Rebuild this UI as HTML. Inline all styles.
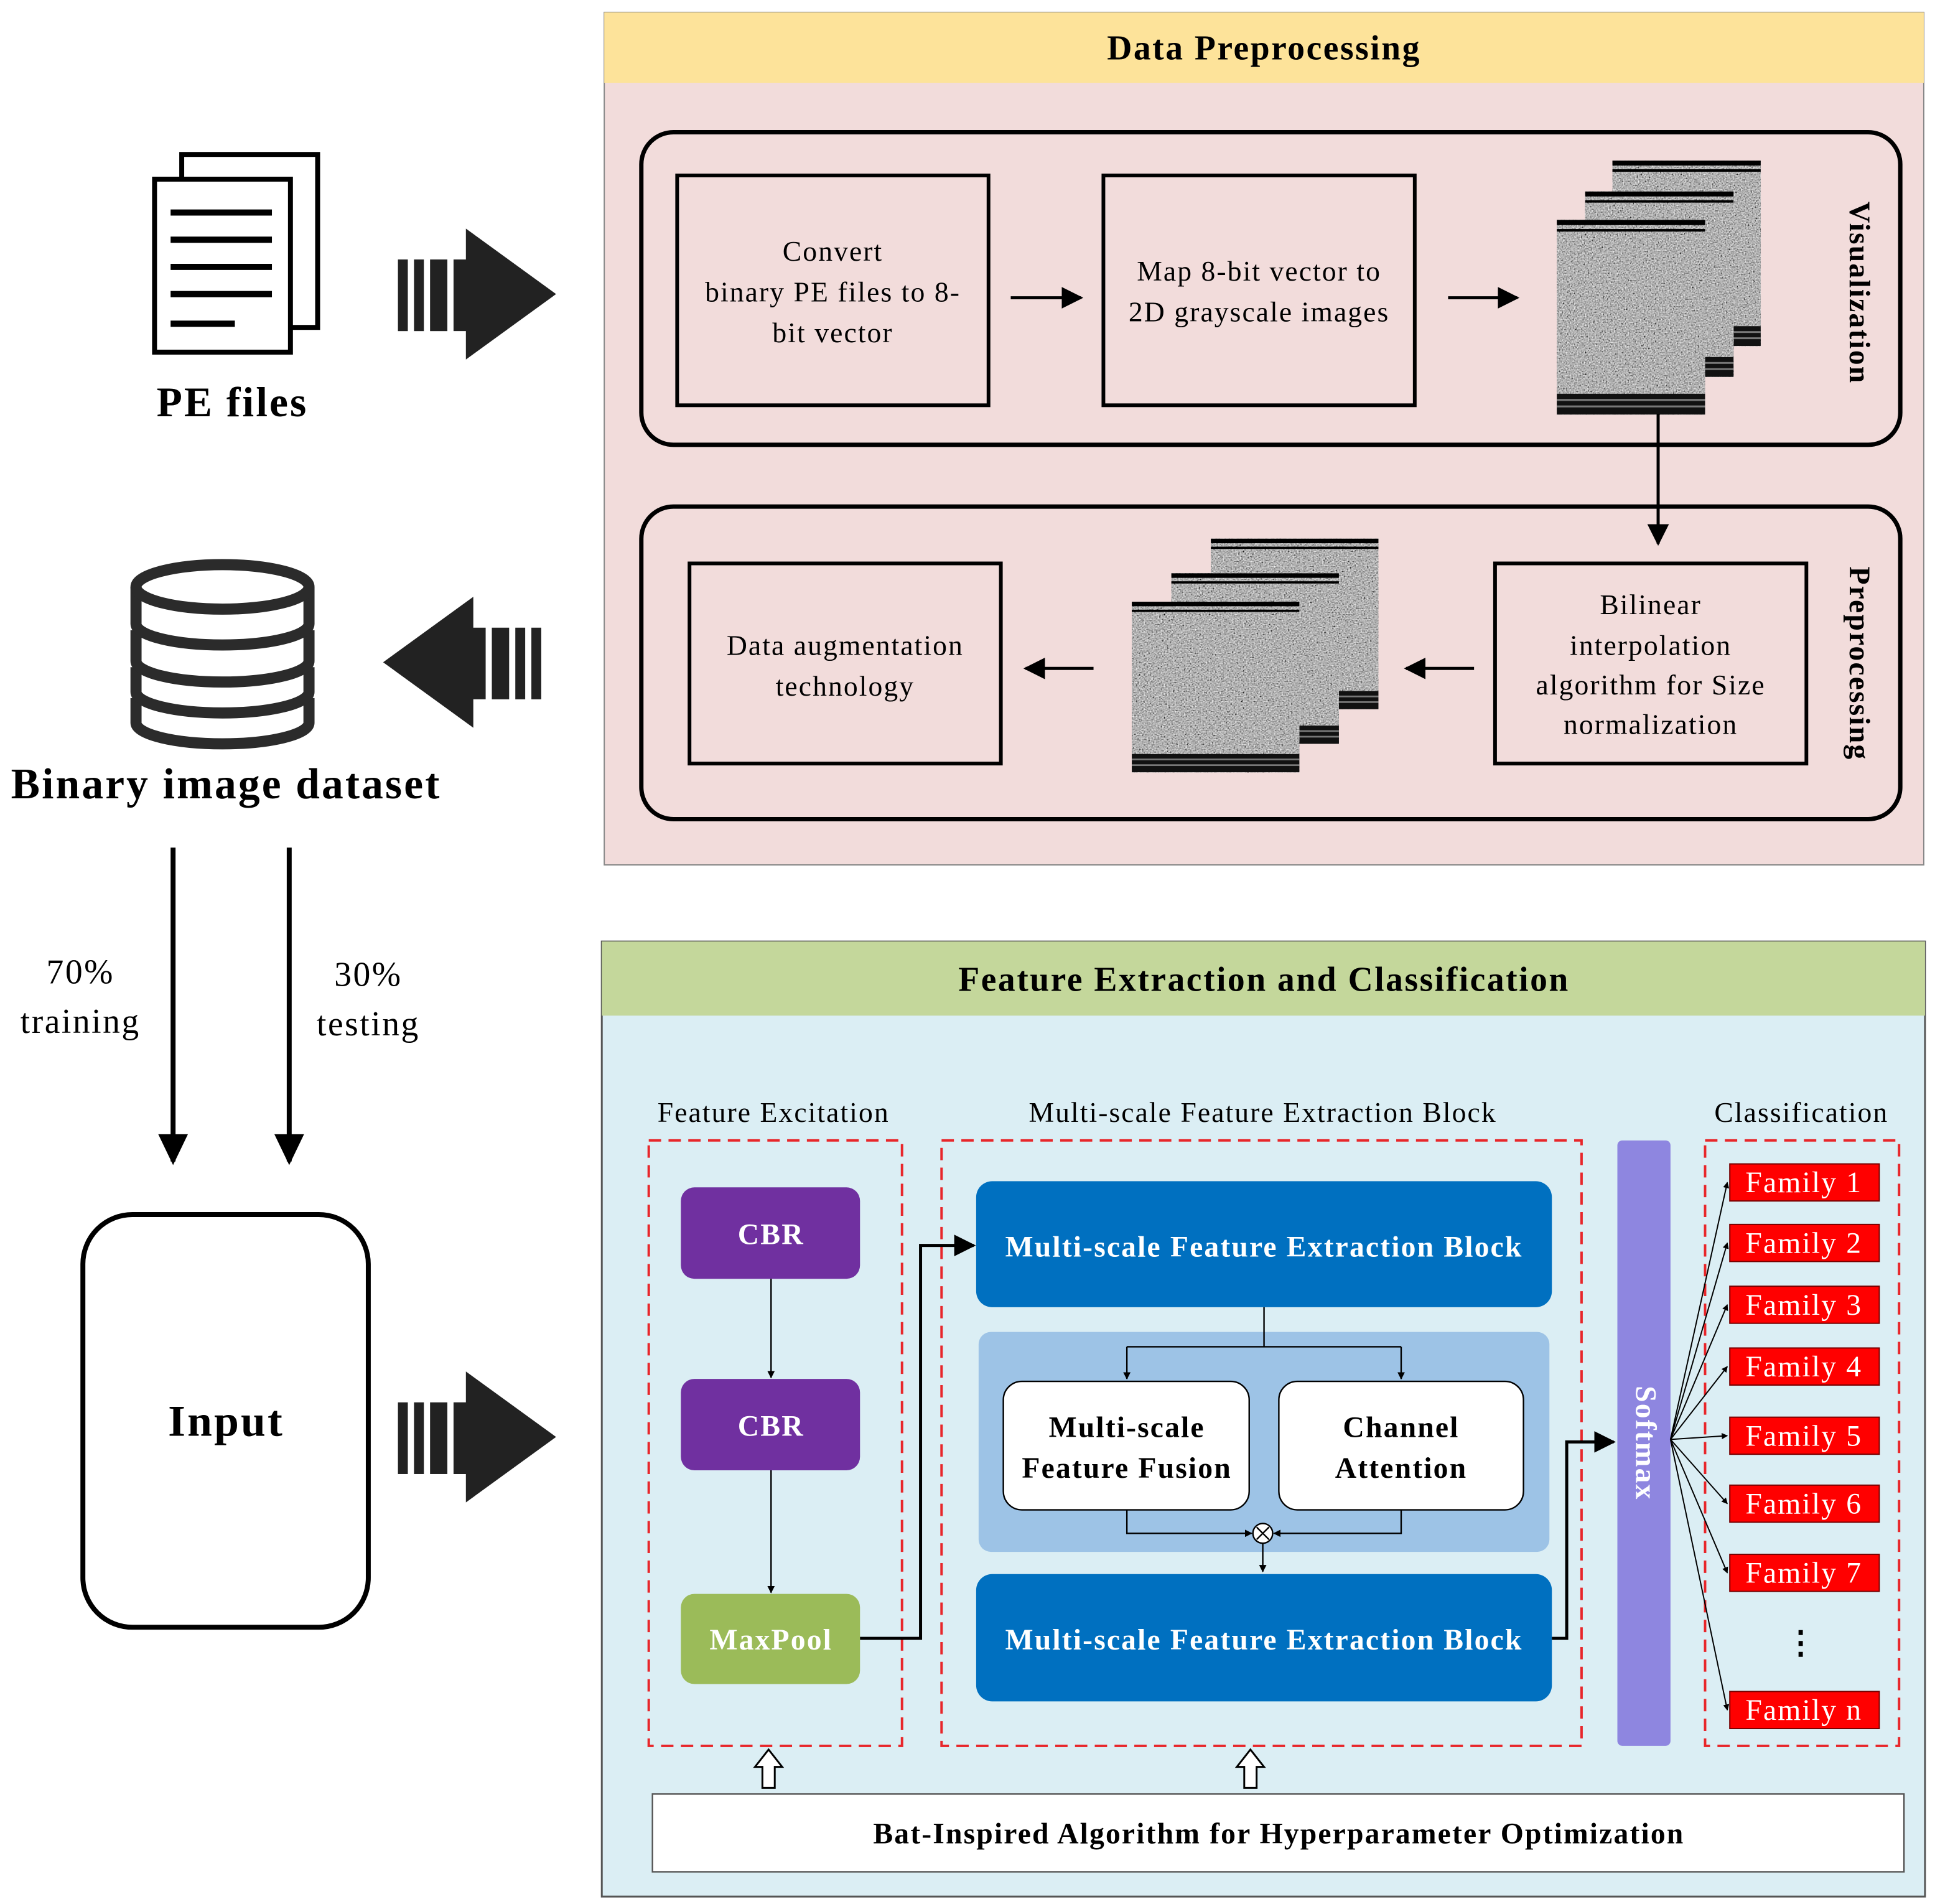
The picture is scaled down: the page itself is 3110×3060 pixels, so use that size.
<!DOCTYPE html>
<html><head><meta charset="utf-8">
<style>
html,body{margin:0;padding:0;background:#fff;}
svg{display:block;}
text{font-family:"Liberation Serif",serif;letter-spacing:0.045em;}
</style></head>
<body>
<svg width="3110" height="3060" viewBox="0 0 1566 1541" xmlns="http://www.w3.org/2000/svg">
<defs>
<filter id="nz2" x="0" y="0" width="100%" height="100%">
<feTurbulence type="fractalNoise" baseFrequency="0.9" numOctaves="1" seed="7" result="t"/>
<feColorMatrix in="t" type="matrix" values="0.33 0.33 0.33 0 0  0.33 0.33 0.33 0 0  0.33 0.33 0.33 0 0  0 0 0 0 1"/>
<feComponentTransfer><feFuncR type="linear" slope="2.2" intercept="-0.65"/><feFuncG type="linear" slope="2.2" intercept="-0.65"/><feFuncB type="linear" slope="2.2" intercept="-0.65"/></feComponentTransfer>
</filter>
<marker id="ah" viewBox="0 0 10 10" refX="9" refY="5" markerWidth="7" markerHeight="7" orient="auto-start-reverse"><path d="M0,0 L10,5 L0,10 z" fill="#000"/></marker>
<marker id="ahs" viewBox="0 0 10 10" refX="9" refY="5" markerWidth="5" markerHeight="5" orient="auto"><path d="M0,0 L10,5 L0,10 z" fill="#000"/></marker>
<g id="img">
<rect x="0" y="0" width="120" height="150" fill="#666" filter="url(#nz2)"/>
<rect x="0" y="0" width="120" height="4" fill="#000"/>
<rect x="0" y="7" width="120" height="2" fill="#000"/>
<rect x="0" y="134" width="120" height="16" fill="#111"/>
<rect x="0" y="138" width="120" height="1.5" fill="#777"/>
<rect x="0" y="143" width="120" height="1.5" fill="#777"/>
</g>
<g id="bigR">
<rect x="0" y="25" width="8" height="58" fill="#222"/>
<rect x="13" y="25" width="8" height="58" fill="#222"/>
<rect x="26" y="25" width="14" height="58" fill="#222"/>
<path d="M45,25 L55,25 L55,0 L128,53 L55,106 L55,83 L45,83 z" fill="#222"/>
</g>
</defs>

<rect x="489" y="10" width="1068" height="690" fill="#f2dcdb" stroke="#888" stroke-width="1"/>
<rect x="489" y="10" width="1068" height="57" fill="#fde39a"/>
<text x="1023" y="48" font-size="28" font-weight="bold" text-anchor="middle">Data Preprocessing</text>

<rect x="519" y="107" width="1019" height="253" rx="26" fill="none" stroke="#000" stroke-width="3.5"/>
<rect x="548" y="142" width="252" height="186" fill="none" stroke="#000" stroke-width="3"/>
<text font-size="23" text-anchor="middle"><tspan x="674" y="211">Convert</tspan><tspan x="674" y="244">binary PE files to 8-</tspan><tspan x="674" y="277">bit vector</tspan></text>
<rect x="893" y="142" width="252" height="186" fill="none" stroke="#000" stroke-width="3"/>
<text font-size="23" text-anchor="middle"><tspan x="1019" y="227">Map 8-bit vector to</tspan><tspan x="1019" y="260">2D grayscale images</tspan></text>
<line x1="818" y1="241" x2="875" y2="241" stroke="#000" stroke-width="2.5" marker-end="url(#ah)"/>
<line x1="1172" y1="241" x2="1228" y2="241" stroke="#000" stroke-width="2.5" marker-end="url(#ah)"/>
<use href="#img" transform="translate(1305,130)"/>
<use href="#img" transform="translate(1283,155)"/>
<use href="#img" transform="translate(1260,178) scale(1,1.05)"/>
<text transform="translate(1497,237) rotate(90)" font-size="24" font-weight="bold" text-anchor="middle">Visualization</text>
<line x1="1342" y1="335" x2="1342" y2="440" stroke="#000" stroke-width="2.5" marker-end="url(#ah)"/>

<rect x="519" y="410" width="1019" height="253" rx="26" fill="none" stroke="#000" stroke-width="3.5"/>
<rect x="558" y="456" width="252" height="162" fill="none" stroke="#000" stroke-width="3"/>
<text font-size="23" text-anchor="middle"><tspan x="684" y="530">Data augmentation</tspan><tspan x="684" y="563">technology</tspan></text>
<use href="#img" transform="translate(980,436) scale(1.13,0.92)"/>
<use href="#img" transform="translate(948,464) scale(1.13,0.92)"/>
<use href="#img" transform="translate(916,487) scale(1.13,0.92)"/>
<rect x="1210" y="456" width="252" height="162" fill="none" stroke="#000" stroke-width="3"/>
<text font-size="23" text-anchor="middle"><tspan x="1336" y="497">Bilinear</tspan><tspan x="1336" y="530">interpolation</tspan><tspan x="1336" y="562">algorithm for Size</tspan><tspan x="1336" y="594">normalization</tspan></text>
<line x1="1193" y1="541" x2="1138" y2="541" stroke="#000" stroke-width="2.5" marker-end="url(#ah)"/>
<line x1="885" y1="541" x2="830" y2="541" stroke="#000" stroke-width="2.5" marker-end="url(#ah)"/>
<text transform="translate(1497,537) rotate(90)" font-size="24" font-weight="bold" text-anchor="middle">Preprocessing</text>

<rect x="147" y="125" width="110" height="140" fill="#fff" stroke="#000" stroke-width="4"/>
<rect x="125" y="145" width="110" height="140" fill="#fff" stroke="#000" stroke-width="4"/>
<g stroke="#000" stroke-width="5">
<line x1="138" y1="172" x2="220" y2="172"/><line x1="138" y1="194" x2="220" y2="194"/><line x1="138" y1="216" x2="220" y2="216"/><line x1="138" y1="238" x2="220" y2="238"/><line x1="138" y1="262" x2="190" y2="262"/>
</g>
<text x="188" y="337" font-size="34" font-weight="bold" text-anchor="middle">PE  files</text>
<use href="#bigR" transform="translate(322,185)"/>

<g fill="#fff" stroke="#2b2b2b" stroke-width="9">
<path d="M110,565 L110,585 A70,17 0 0 0 250,585 L250,565"/>
<path d="M110,540 L110,560 A70,17 0 0 0 250,560 L250,540"/>
<path d="M110,510 L110,535 A70,17 0 0 0 250,535 L250,510"/>
<path d="M110,475 L110,505 A70,17 0 0 0 250,505 L250,475"/>
<ellipse cx="180" cy="475" rx="70" ry="18"/>
</g>
<text x="183" y="646" font-size="35" font-weight="bold" text-anchor="middle">Binary image dataset</text>
<use href="#bigR" transform="translate(438,483) scale(-1,1)"/>

<line x1="140" y1="686" x2="140" y2="940" stroke="#000" stroke-width="4"/>
<path d="M128,918 L152,918 L140,943 z"/>
<line x1="234" y1="686" x2="234" y2="940" stroke="#000" stroke-width="4"/>
<path d="M222,918 L246,918 L234,943 z"/>
<text font-size="28" text-anchor="middle"><tspan x="65" y="796">70%</tspan><tspan x="65" y="836">training</tspan></text>
<text font-size="28" text-anchor="middle"><tspan x="298" y="798">30%</tspan><tspan x="298" y="838">testing</tspan></text>

<rect x="67" y="983" width="231" height="334" rx="40" fill="#fff" stroke="#000" stroke-width="4"/>
<text x="183" y="1162" font-size="36" font-weight="bold" text-anchor="middle">Input</text>
<use href="#bigR" transform="translate(322,1110)"/>

<rect x="487" y="762" width="1071" height="773" fill="#dbeef4" stroke="#555" stroke-width="1.5"/>
<rect x="487" y="762" width="1071" height="60" fill="#c4d79b"/>
<text x="1023" y="802" font-size="28" font-weight="bold" text-anchor="middle">Feature Extraction and Classification</text>

<text x="626" y="908" font-size="23" text-anchor="middle">Feature Excitation</text>
<text x="1022" y="908" font-size="23" text-anchor="middle">Multi-scale Feature Extraction Block</text>
<text x="1458" y="908" font-size="23" text-anchor="middle">Classification</text>

<g fill="none" stroke="#e8262a" stroke-width="2" stroke-dasharray="10,6">
<rect x="525" y="923" width="205" height="490"/>
<rect x="762" y="923" width="518" height="490"/>
<rect x="1380" y="923" width="157" height="490"/>
</g>

<rect x="551" y="961" width="145" height="74" rx="11" fill="#7030a0"/>
<text x="624" y="1007" font-size="24" font-weight="bold" fill="#fff" text-anchor="middle">CBR</text>
<rect x="551" y="1116" width="145" height="74" rx="11" fill="#7030a0"/>
<text x="624" y="1162" font-size="24" font-weight="bold" fill="#fff" text-anchor="middle">CBR</text>
<rect x="551" y="1290" width="145" height="73" rx="11" fill="#9bbb59"/>
<text x="624" y="1335" font-size="24" font-weight="bold" fill="#fff" text-anchor="middle">MaxPool</text>
<line x1="624" y1="1035" x2="624" y2="1115" stroke="#000" stroke-width="1.2" marker-end="url(#ahs)"/>
<line x1="624" y1="1190" x2="624" y2="1289" stroke="#000" stroke-width="1.2" marker-end="url(#ahs)"/>

<polyline points="696,1326 745,1326 745,1008 788,1008" fill="none" stroke="#000" stroke-width="2.5" marker-end="url(#ah)"/>

<rect x="790" y="956" width="466" height="102" rx="13" fill="#0070c0"/>
<text x="1023" y="1017" font-size="24" font-weight="bold" fill="#fff" text-anchor="middle">Multi-scale Feature Extraction Block</text>
<rect x="792" y="1078" width="462" height="178" rx="10" fill="#9dc3e6"/>
<rect x="812" y="1118" width="199" height="104" rx="15" fill="#fff" stroke="#000" stroke-width="1.2"/>
<text font-size="24" font-weight="bold" text-anchor="middle"><tspan x="912" y="1163">Multi-scale</tspan><tspan x="912" y="1196">Feature Fusion</tspan></text>
<rect x="1035" y="1118" width="198" height="104" rx="15" fill="#fff" stroke="#000" stroke-width="1.2"/>
<text font-size="24" font-weight="bold" text-anchor="middle"><tspan x="1134" y="1163">Channel</tspan><tspan x="1134" y="1196">Attention</tspan></text>
<g stroke="#000" stroke-width="1.2" fill="none">
<line x1="1023" y1="1058" x2="1023" y2="1090"/>
<line x1="912" y1="1090" x2="1134" y2="1090"/>
<line x1="912" y1="1090" x2="912" y2="1116" marker-end="url(#ahs)"/>
<line x1="1134" y1="1090" x2="1134" y2="1116" marker-end="url(#ahs)"/>
<polyline points="912,1222 912,1241 1013,1241" marker-end="url(#ahs)"/>
<polyline points="1134,1222 1134,1241 1031,1241" marker-end="url(#ahs)"/>
<circle cx="1022" cy="1241" r="8" fill="#fff"/>
<line x1="1017" y1="1236" x2="1027" y2="1246"/><line x1="1027" y1="1236" x2="1017" y2="1246"/>
<line x1="1022" y1="1249" x2="1022" y2="1272" marker-end="url(#ahs)"/>
</g>
<rect x="790" y="1274" width="466" height="103" rx="13" fill="#0070c0"/>
<text x="1023" y="1335" font-size="24" font-weight="bold" fill="#fff" text-anchor="middle">Multi-scale Feature Extraction Block</text>

<polyline points="1256,1326 1268,1326 1268,1167 1306,1167" fill="none" stroke="#000" stroke-width="2.5" marker-end="url(#ah)"/>

<rect x="1309" y="923" width="43" height="490" rx="4" fill="#8e86e0"/>
<text transform="translate(1324,1168) rotate(90)" font-size="24" font-weight="bold" fill="#fff" text-anchor="middle">Softmax</text>

<g stroke="#000" stroke-width="1" fill="none">
<line x1="1352" y1="1165" x2="1398" y2="957" marker-end="url(#ahs)"/>
<line x1="1352" y1="1165" x2="1398" y2="1006" marker-end="url(#ahs)"/>
<line x1="1352" y1="1165" x2="1398" y2="1056" marker-end="url(#ahs)"/>
<line x1="1352" y1="1165" x2="1398" y2="1106" marker-end="url(#ahs)"/>
<line x1="1352" y1="1165" x2="1398" y2="1162" marker-end="url(#ahs)"/>
<line x1="1352" y1="1165" x2="1398" y2="1217" marker-end="url(#ahs)"/>
<line x1="1352" y1="1165" x2="1398" y2="1273" marker-end="url(#ahs)"/>
<line x1="1352" y1="1165" x2="1398" y2="1384" marker-end="url(#ahs)"/>
</g>
<g font-size="24" fill="#fff" text-anchor="middle">
<rect x="1400" y="942" width="121" height="30" fill="#f00" stroke="#700" stroke-width="1"/><text x="1460" y="965">Family 1</text>
<rect x="1400" y="991" width="121" height="30" fill="#f00" stroke="#700" stroke-width="1"/><text x="1460" y="1014">Family 2</text>
<rect x="1400" y="1041" width="121" height="30" fill="#f00" stroke="#700" stroke-width="1"/><text x="1460" y="1064">Family 3</text>
<rect x="1400" y="1091" width="121" height="30" fill="#f00" stroke="#700" stroke-width="1"/><text x="1460" y="1114">Family 4</text>
<rect x="1400" y="1147" width="121" height="30" fill="#f00" stroke="#700" stroke-width="1"/><text x="1460" y="1170">Family 5</text>
<rect x="1400" y="1202" width="121" height="30" fill="#f00" stroke="#700" stroke-width="1"/><text x="1460" y="1225">Family 6</text>
<rect x="1400" y="1258" width="121" height="30" fill="#f00" stroke="#700" stroke-width="1"/><text x="1460" y="1281">Family 7</text>
<rect x="1400" y="1369" width="121" height="30" fill="#f00" stroke="#700" stroke-width="1"/><text x="1460" y="1392">Family n</text>
</g>
<text x="1458" y="1338" font-size="26" font-weight="bold" text-anchor="middle">⋮</text>

<rect x="528" y="1452" width="1013" height="63" fill="#fff" stroke="#555" stroke-width="1.2"/>
<text x="1035" y="1492" font-size="24" font-weight="bold" text-anchor="middle">Bat-Inspired Algorithm for Hyperparameter Optimization</text>
<path d="M617,1447 L617,1430 L611,1430 L622,1416 L633,1430 L627,1430 L627,1447 z" fill="#fff" stroke="#000" stroke-width="1.5"/>
<path d="M1007,1447 L1007,1430 L1001,1430 L1012,1416 L1023,1430 L1017,1430 L1017,1447 z" fill="#fff" stroke="#000" stroke-width="1.5"/>
</svg>
</body></html>
